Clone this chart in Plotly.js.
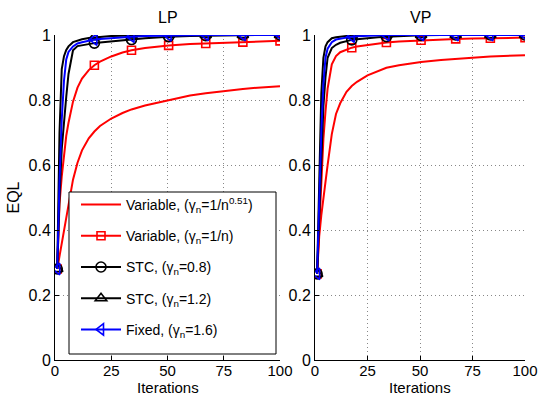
<!DOCTYPE html>
<html><head><meta charset="utf-8">
<script src="https://cdn.plot.ly/plotly-3.0.1.min.js"></script>
<style>html,body{margin:0;padding:0;background:#fff}</style>
</head><body><div id="chart" style="width:539px;height:397px"></div>
<script>
const iterations = [1,1.5,2,3,4,5,6,8,10,12,15,17.5,20,25,30,34,40,50.5,60,67,75,83.5,90,100];
const markerIterations = [1,17.5,34,50.5,67,83.5,100];

const lpVar051 = [0.28,0.30,0.32,0.36,0.40,0.445,0.487,0.555,0.607,0.645,0.682,0.703,0.72,0.743,0.76,0.771,0.783,0.80,0.814,0.821,0.828,0.834,0.838,0.842];
const lpVar1   = [0.28,0.38,0.48,0.565,0.64,0.69,0.73,0.795,0.838,0.866,0.892,0.907,0.918,0.934,0.946,0.953,0.96,0.968,0.972,0.974,0.976,0.978,0.98,0.982];
const lpStc08  = [0.28,0.40,0.50,0.65,0.745,0.81,0.88,0.953,0.966,0.969,0.972,0.975,0.977,0.981,0.984,0.986,0.99,0.995,0.997,0.998,0.999,1,1,1];
const lpStc12  = [0.28,0.50,0.70,0.895,0.935,0.954,0.965,0.978,0.983,0.987,0.991,0.993,0.995,0.997,0.998,0.999,1,1,1,1,1,1,1,1];
const lpFixed  = [0.28,0.42,0.55,0.74,0.86,0.925,0.948,0.965,0.974,0.978,0.983,0.986,0.988,0.991,0.994,0.995,0.997,0.999,1,1,1,1,1,1];

const vpVar051 = [0.265,0.32,0.38,0.445,0.50,0.55,0.60,0.695,0.757,0.79,0.825,0.843,0.856,0.876,0.89,0.899,0.907,0.917,0.923,0.927,0.93,0.934,0.936,0.938];
const vpVar1   = [0.265,0.34,0.42,0.57,0.68,0.765,0.835,0.91,0.935,0.947,0.956,0.961,0.965,0.97,0.975,0.977,0.98,0.984,0.986,0.988,0.989,0.99,0.991,0.992];
const vpStc08  = [0.265,0.36,0.46,0.64,0.78,0.87,0.93,0.96,0.97,0.976,0.982,0.985,0.987,0.991,0.993,0.995,0.997,0.999,1,1,1,1,1,1];
const vpStc12  = [0.265,0.42,0.58,0.82,0.93,0.965,0.978,0.99,0.993,0.995,0.997,0.998,0.999,1,1,1,1,1,1,1,1,1,1,1];
const vpFixed  = [0.265,0.38,0.50,0.70,0.85,0.93,0.958,0.978,0.986,0.989,0.993,0.995,0.996,0.998,0.999,1,1,1,1,1,1,1,1,1];

const seriesNames = [
  'Variable, (γ<sub>n</sub>=1/n<sup>0.51</sup>)',
  'Variable, (γ<sub>n</sub>=1/n)',
  'STC, (γ<sub>n</sub>=0.8)',
  'STC, (γ<sub>n</sub>=1.2)',
  'Fixed, (γ<sub>n</sub>=1.6)'
];
const lpSeries = [lpVar051, lpVar1, lpStc08, lpStc12, lpFixed];
const vpSeries = [vpVar051, vpVar1, vpStc08, vpStc12, vpFixed];

const styles = [
  {color:'#ff0000', symbol:null, size:0},
  {color:'#ff0000', symbol:'square-open', size:8},
  {color:'#000000', symbol:'circle-open', size:10},
  {color:'#000000', symbol:'triangle-up-open', size:10},
  {color:'#0000ff', symbol:'triangle-left-open', size:10}
];

const traces = [];
function addPanel(series, xa, ya) {
  series.forEach((vals, i) => {
    const st = styles[i];
    traces.push({x: iterations, y: vals, xaxis: xa, yaxis: ya, mode: 'lines',
      line: {color: st.color, width: 2}, showlegend: false, hoverinfo: 'skip'});
    if (st.symbol) {
      const mx = [], my = [];
      iterations.forEach((it, k) => { if (markerIterations.includes(it)) { mx.push(it); my.push(vals[k]); } });
      traces.push({x: mx, y: my, xaxis: xa, yaxis: ya, mode: 'markers',
        marker: {symbol: st.symbol, size: st.size, color: st.color, line: {color: st.color, width: 1.6}},
        showlegend: false, hoverinfo: 'skip'});
    }
  });
}
addPanel(lpSeries, 'x', 'y');
addPanel(vpSeries, 'x2', 'y2');

seriesNames.forEach((nm, i) => {
  const st = styles[i];
  const t = {x: [null], y: [null], xaxis: 'x', yaxis: 'y', name: nm, legendgroup: 'g' + i,
    mode: st.symbol ? 'lines+markers' : 'lines',
    line: {color: st.color, width: 2}};
  if (st.symbol) t.marker = {symbol: st.symbol, size: st.size, color: st.color, line: {color: st.color, width: 1.6}};
  traces.push(t);
});

const fontFam = 'Liberation Sans, Arial, Helvetica, sans-serif';
const axisX = (dom, anchor) => ({domain: dom, anchor: anchor, range: [0, 100], tickvals: [0,25,50,75,100], ticktext: ['0','25','50','75','100'],
  showgrid: true, gridcolor: '#888', griddash: '1px,3px', gridwidth: 1,
  showline: true, linecolor: '#000', linewidth: 1, ticks: 'inside', ticklen: 4, tickcolor: '#000',
  zeroline: false, tickfont: {size: 15, color: '#000'}, ticklabelstandoff: -3, fixedrange: true});
const axisY = (anchor) => ({domain: [0.0932, 0.9118], anchor: anchor, range: [0, 1], tickvals: [0,0.2,0.4,0.6,0.8,1],
  ticktext: ['0','0.2','0.4','0.6','0.8','1'],
  showgrid: true, gridcolor: '#888', griddash: '1px,3px', gridwidth: 1,
  showline: true, linecolor: '#000', linewidth: 1, ticks: 'inside', ticklen: 4, tickcolor: '#000',
  zeroline: false, tickfont: {size: 16, color: '#000'}, fixedrange: true});

const xa1 = axisX([55/539, 280/539], 'y');
const xa2 = axisX([315/539, 525/539], 'y2');
const ya1 = axisY('x'); ya1.title = {text: 'EQL', font: {size: 16, color: '#000'}, standoff: 4};
const ya2 = axisY('x2');

const W = 539, H = 397;
const ann = (text, xpx, ypx, size) => ({text: text, x: xpx / W, y: 1 - ypx / H, xref: 'paper', yref: 'paper',
  xanchor: 'center', yanchor: 'middle', showarrow: false, borderpad: 0, font: {size: size, color: '#000'}});
const layout = {
  width: W, height: H,
  margin: {l: 0, r: 0, t: 0, b: 0},
  paper_bgcolor: '#fff', plot_bgcolor: '#fff',
  font: {family: fontFam, color: '#000'},
  xaxis: xa1, yaxis: ya1, xaxis2: xa2, yaxis2: ya2,
  showlegend: true,
  legend: {x: 76/W, y: (H-189)/H, xanchor: 'left', yanchor: 'top', bgcolor: 'rgba(0,0,0,0)',
    borderwidth: 0, font: {size: 14, color: '#000'}, traceorder: 'grouped',
    tracegroupgap: 10, itemwidth: 40},
  shapes: [
    {type: 'rect', xref: 'paper', yref: 'paper', x0: 69/W, x1: 276/W, y0: (H-354)/H, y1: (H-192)/H,
     fillcolor: '#fff', line: {color: '#000', width: 1}, layer: 'above'}
  ],
  annotations: [
    ann('LP', (55+280)/2, 17, 16),
    ann('VP', (315+525)/2, 17, 16),
    ann('Iterations', (55+280)/2, 387, 15),
    ann('Iterations', (315+525)/2, 387, 15)
  ]
};
Plotly.newPlot('chart', traces, layout, {displayModeBar: false, staticPlot: true});
</script></body></html>
